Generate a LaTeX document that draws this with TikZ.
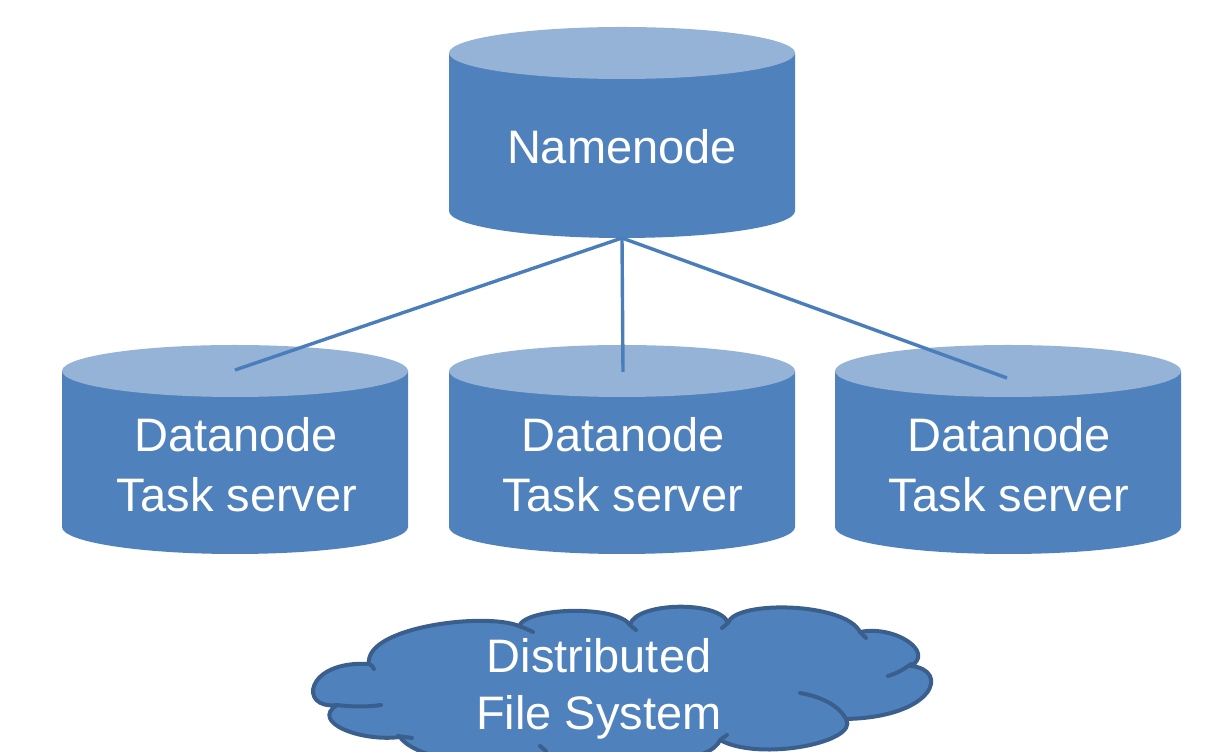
\documentclass[tikz,border=0pt]{standalone}
\usepackage{fontspec}
\setmainfont{Liberation Sans}
\definecolor{bodyc}{HTML}{4F81BD}
\definecolor{topc}{HTML}{95B3D7}
\definecolor{linec}{HTML}{4A7EBB}
\definecolor{cloudedge}{HTML}{3A5F8D}
\tikzset{
  lbl/.style={text=white, font=\fontsize{47}{55}\selectfont, anchor=base, inner sep=0pt},
  conn/.style={draw=linec, line width=3.4pt},
  cloudline/.style={draw=cloudedge, line width=4pt, line join=round, line cap=round},
}
\newcommand{\drawdb}[3]{%
  \fill[bodyc] (#1-173,#2) -- (#1-173,#3) arc[start angle=180,end angle=360,x radius=173,y radius=27] -- (#1+173,#2) -- cycle;
  \fill[topc] (#1,#2) ellipse[x radius=173, y radius=26];
}
\begin{document}
\begin{tikzpicture}[x=1pt,y=1pt]
\useasboundingbox (0,0) rectangle (1213,752);
\clip (0,0) rectangle (1213,752);

% cylinders
\drawdb{622}{699}{541}
\drawdb{235}{381}{225}
\drawdb{622}{381}{225}
\drawdb{1008}{381}{225}

% connector ends
\coordinate (nnb) at (622,514);
\coordinate (d1t) at (235,382);
\coordinate (d2t) at (623,380);
\coordinate (d3t) at (1007,374);

\draw[conn] (nnb) -- (d1t);
\draw[conn] (nnb) -- (d2t);
\draw[conn] (nnb) -- (d3t);

% labels
\node[lbl] (nn) at (622,588) {Namenode};
\node[lbl] (d1a) at (236,300) {Datanode};
\node[lbl] (d1b) at (237,240) {Task server};
\node[lbl] (d2a) at (623,300) {Datanode};
\node[lbl] (d2b) at (623,240) {Task server};
\node[lbl] (d3a) at (1009,300) {Datanode};
\node[lbl] (d3b) at (1009,240) {Task server};

% cloud
\path[fill=bodyc, cloudline]
  (337,47) .. controls (298,42) and (305,92) .. (369,88)
  .. controls (364,125) and (485,140) .. (519,126)
  .. controls (527,145) and (617,147) .. (630,127)
  .. controls (635,150) and (720,152) .. (728,129)
  .. controls (735,152) and (845,150) .. (860,120)
  .. controls (895,127) and (935,100) .. (911,86)
  .. controls (950,82) and (935,35) .. (846,33)
  .. controls (860,10) and (760,-10) .. (720,12)
  .. controls (705,-30) and (430,-30) .. (400,15)
  .. controls (360,10) and (310,30) .. (337,47) -- cycle;
\draw[cloudline] (337,47) .. controls (352,45) and (368,45) .. (381,47);
\draw[cloudline] (369,88) .. controls (371,87) and (373,86) .. (374,83);
\draw[cloudline] (519,126) .. controls (524,124) and (529,122) .. (533,120);
\draw[cloudline] (630,127) -- (636,122);
\draw[cloudline] (728,129) -- (722,124);
\draw[cloudline] (860,120) -- (866,114);
\draw[cloudline] (911,88) .. controls (903,82) and (895,78) .. (888,76);
\draw[cloudline] (800,59) .. controls (818,56) and (838,48) .. (846,33);
\draw[cloudline] (720,12) -- (727,17);
\draw[cloudline] (540,6) -- (546,1);
\draw[cloudline] (398,16) -- (412,14);

\node[lbl] (c1) at (599,79) {Distributed};
\node[lbl] (c2) at (599,22) {File System};
\end{tikzpicture}
\end{document}
